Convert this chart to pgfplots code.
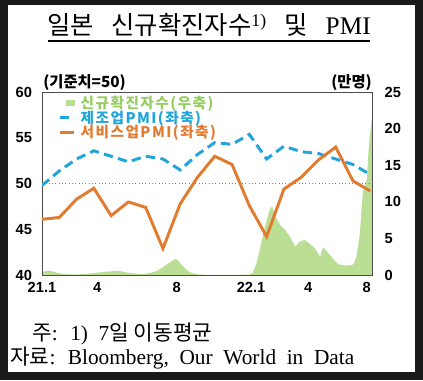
\documentclass[border=0pt]{standalone}
\usepackage{pgfplots}
\pgfplotsset{compat=1.18}
\usepackage{fontspec}
\setmainfont{Liberation Sans}
\newfontfamily\cjk{Noto Sans CJK KR}
\newfontfamily\cjkwide[LetterSpace=10]{Noto Sans CJK KR}
\newfontfamily\serif[WordSpace=2]{Liberation Serif}
\definecolor{cgreen}{RGB}{186,223,148}
\definecolor{tgreen}{RGB}{150,206,98}
\definecolor{cblue}{RGB}{32,165,218}
\definecolor{corange}{RGB}{226,122,48}
\definecolor{frame}{RGB}{26,26,26}
\begin{document}
\begin{tikzpicture}
\begin{scope}[x=0.75pt,y=-0.75pt,shift={(0pt,285pt)}]
\fill[frame] (0,0) rectangle (423,380);
\fill[white] (8,5) rectangle (415,372);
\node[font=\cjk\fontsize{19}{19}\selectfont, anchor=center, inner sep=0pt] at (209,25) {일본\hspace{0.7em}신규확진자수\textsuperscript{\serif 1)}\hspace{0.7em}및\hspace{0.7em}{\serif PMI}};
\draw[line width=1.1pt] (48,41) -- (370,41);
\node[anchor=west, inner sep=0pt, font=\cjk\bfseries\fontsize{11.5}{12}\selectfont] at (43,83) {(기준치=50)};
\node[anchor=east, inner sep=0pt, font=\cjk\bfseries\fontsize{11.5}{12}\selectfont] at (372,83) {(만명)};
\node[anchor=west, inner sep=0pt, font=\serif\fontsize{16}{16}\selectfont] at (32,334) {{\cjk 주}: 1) 7{\cjk 일 이동평균}};
\node[anchor=west, inner sep=0pt, font=\serif\fontsize{16}{16}\selectfont] at (10,358) {{\cjk 자료}: Bloomberg, Our World in Data};
\end{scope}

\begin{axis}[at={(31.5pt,78.75pt)}, anchor=south west, scale only axis,
  width=247.5pt, height=137pt,
  xmin=0, xmax=19.1, ymin=0, ymax=25,
  axis y line*=right, axis x line=none,
  ytick={0,5,10,15,20,25},
  major tick length=0pt,
  axis line style={black!70, line width=0.6pt},
  /pgf/number format/assume math mode=true,
  yticklabel style={font=\bfseries\fontsize{11}{11}\selectfont, xshift=6pt},
]
\addplot[fill=cgreen, draw=none] coordinates {
(0,0.35) (0.2,0.55) (0.4,0.6) (0.6,0.5) (0.8,0.35) (1.0,0.25) (1.2,0.15) (1.5,0.08) (2.0,0.08) (2.5,0.15) (3.0,0.25) (3.3,0.35) (3.7,0.45) (4.0,0.5) (4.3,0.58) (4.6,0.5) (5.0,0.3) (5.4,0.2) (5.8,0.12) (6.2,0.25) (6.6,0.5) (6.9,0.9) (7.2,1.4) (7.5,1.9) (7.7,2.2) (7.85,2.05) (8.0,1.6) (8.2,1.1) (8.4,0.6) (8.7,0.25) (9.0,0.1) (9.5,0.03) (10,0.02) (11,0.02) (12,0.05) (12.2,0.3) (12.4,1.5) (12.6,3.4) (12.9,6.6) (13.2,9.1) (13.33,9.4) (13.5,8.0) (13.8,6.8) (14.07,6.2) (14.36,5.2) (14.65,3.9) (14.94,4.6) (15.2,4.8) (15.5,4.3) (15.8,3.6) (16.1,2.5) (16.26,3.8) (16.5,3.2) (16.9,2.05) (17.17,1.45) (17.4,1.35) (17.65,1.3) (17.9,1.35) (18.04,1.5) (18.2,2.5) (18.4,5.7) (18.5,9.3) (18.6,11.6) (18.8,13) (18.9,17) (19.0,19.5) (19.1,21.5)
} \closedcycle;
\end{axis}

\begin{axis}[at={(31.5pt,78.75pt)}, anchor=south west, scale only axis,
  width=247.5pt, height=137pt,
  xmin=0, xmax=19.1, ymin=40, ymax=60,
  ytick={40,45,50,55,60},
  xtick={0,3.2,7.8,12.1,15.4,18.8},
  xticklabels={21.1,4,8,22.1,4,8},
  major tick length=0pt,
  axis line style={black!70, line width=0.6pt},
  /pgf/number format/assume math mode=true,
  yticklabel style={font=\bfseries\fontsize{11}{11}\selectfont, xshift=-4pt},
  xticklabel style={font=\bfseries\fontsize{11}{11}\selectfont, yshift=-2pt},
  legend style={at={(0.048,0.985)}, anchor=north west, draw=none, fill=none,
    font=\cjkwide\bfseries\fontsize{11}{11}\selectfont, inner sep=0pt, row sep=0pt,
    nodes={inner sep=0.2pt},
    /tikz/every odd column/.append style={column sep=3.5pt}},
  legend cell align=left,
  legend image code/.code={\draw[#1] (0pt,0pt) -- (11pt,0pt);},
]
\addlegendimage{legend image code/.code={\fill[cgreen] (5pt,-1.7pt) rectangle (11pt,1.7pt);}}
\addlegendentry{\textcolor{tgreen}{신규확진자수(우축)}}
\addplot[gray, dotted, forget plot, line width=0.5pt] coordinates {(0,50) (19.1,50)};
\addplot[cblue, line width=2.2pt, dash pattern=on 7pt off 4pt] coordinates {
(0,49.8) (1,51.4) (2,52.7) (3,53.6) (4,53.0) (5,52.4) (6,53.0) (7,52.7) (8,51.5) (9,53.2) (10,54.5) (11,54.3) (12,55.4) (13,52.7) (14,54.1) (15,53.5) (16,53.3) (17,52.7) (18,52.1) (19,51.0)
};
\addlegendentry{\textcolor{cblue}{제조업PMI(좌축)}}
\addplot[corange, line width=2.2pt] coordinates {
(0,46.1) (1,46.3) (2,48.3) (3,49.5) (4,46.5) (5,48.0) (6,47.4) (7,42.9) (8,47.8) (9,50.7) (10,53.0) (11,52.1) (12,47.6) (13,44.2) (14,49.4) (15,50.7) (16,52.6) (17,54.0) (18,50.3) (19,49.2)
};
\addlegendentry{\textcolor{corange}{서비스업PMI(좌축)}}
\end{axis}
\end{tikzpicture}
\end{document}
